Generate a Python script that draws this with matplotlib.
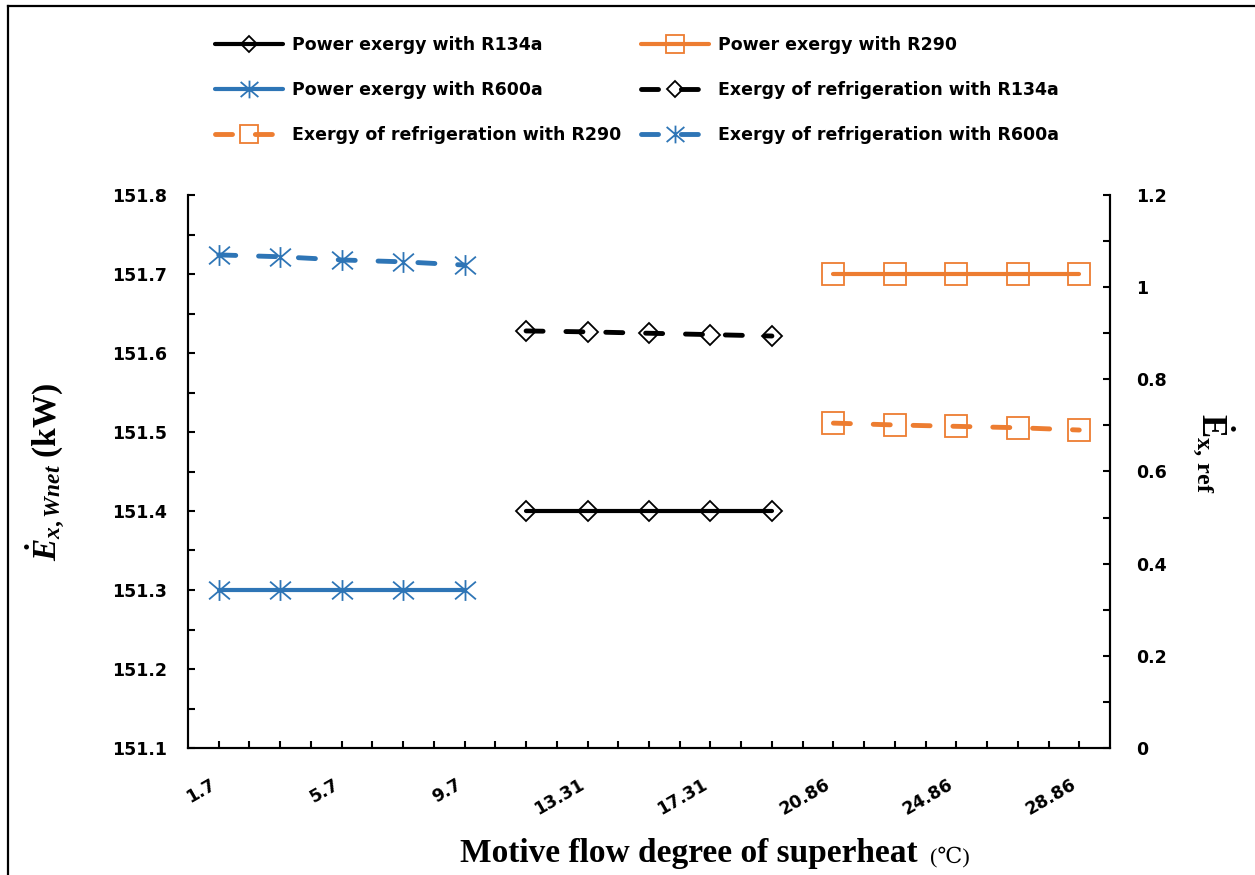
import matplotlib
matplotlib.use("Agg")
import matplotlib.pyplot as plt
from matplotlib.lines import Line2D
from matplotlib.path import Path
from matplotlib.ticker import FixedLocator, MultipleLocator, NullFormatter, FuncFormatter
from matplotlib.font_manager import FontProperties

# Motive flow degree of superheat (°C), one category per point
superheat = ['1.7', '3.7', '5.7', '7.7', '9.7',
             '11.31', '13.31', '15.31', '17.31', '19.31',
             '20.86', '22.86', '24.86', '26.86', '28.86']

# Category index ranges used by each refrigerant
idx_r600a = [0, 1, 2, 3, 4]
idx_r134a = [5, 6, 7, 8, 9]
idx_r290 = [10, 11, 12, 13, 14]

# Net power exergy (kW), left axis
power_r134a = [151.4, 151.4, 151.4, 151.4, 151.4]
power_r290 = [151.7, 151.7, 151.7, 151.7, 151.7]
power_r600a = [151.3, 151.3, 151.3, 151.3, 151.3]

# Exergy of refrigeration, right axis
ref_r134a = [0.905, 0.903, 0.900, 0.897, 0.894]
ref_r290 = [0.705, 0.701, 0.698, 0.695, 0.690]
ref_r600a = [1.070, 1.066, 1.059, 1.055, 1.048]

BLACK = '#000000'
ORANGE = '#ED7D31'
BLUE = '#2E75B6'

W, H = 1255, 875
plt.rcParams['mathtext.fontset'] = 'custom'
plt.rcParams['mathtext.rm'] = 'Liberation Serif:bold'
plt.rcParams['mathtext.it'] = 'Liberation Serif:italic:bold'
plt.rcParams['mathtext.bf'] = 'Liberation Serif:bold'

fig = plt.figure(figsize=(W / 100, H / 100), dpi=100)
ax = fig.add_axes([188 / W, 1 - 748 / H, (1110 - 188) / W, (748 - 195) / H])
ax2 = ax.twinx()

# Asterisk-style marker: vertical bar plus a cross
star = Path([(0, -1), (0, 1), (-1, -0.85), (1, 0.85), (-1, 0.85), (1, -0.85)],
            [Path.MOVETO, Path.LINETO, Path.MOVETO, Path.LINETO, Path.MOVETO, Path.LINETO])

solid_kw = dict(lw=3.0, solid_capstyle='round')
dash_kw = dict(lw=3.5, dashes=(3.5, 4.7), dash_capstyle='round')

styles = {
    'r134a': dict(marker='D', ms=10, mec=BLACK, color=BLACK),
    'r290': dict(marker='s', ms=15.5, mec=ORANGE, color=ORANGE),
    'r600a': dict(marker=star, ms=15, mec=BLUE, color=BLUE),
}

h = {}
h['p134'], = ax.plot(idx_r134a, power_r134a, mfc='none', mew=1.3, **styles['r134a'], **solid_kw,
                     label='Power exergy with R134a')
h['p290'], = ax.plot(idx_r290, power_r290, mfc='none', mew=1.3, **styles['r290'], **solid_kw,
                     label='Power exergy with R290')
h['p600'], = ax.plot(idx_r600a, power_r600a, mfc='none', mew=1.3, **styles['r600a'], **solid_kw,
                     label='Power exergy with R600a')
h['e134'], = ax2.plot(idx_r134a, ref_r134a, mfc='none', mew=1.3, **styles['r134a'], **dash_kw,
                      label='Exergy of refrigeration with R134a')
h['e290'], = ax2.plot(idx_r290, ref_r290, mfc='none', mew=1.3, **styles['r290'], **dash_kw,
                      label='Exergy of refrigeration with R290')
h['e600'], = ax2.plot(idx_r600a, ref_r600a, mfc='none', mew=1.3, **styles['r600a'], **dash_kw,
                      label='Exergy of refrigeration with R600a')

# Axes limits and ticks
ax.set_xlim(-0.5, len(superheat) - 0.5)
ax.set_ylim(151.1, 151.8)
ax2.set_ylim(0, 1.2)
ax.yaxis.set_major_locator(MultipleLocator(0.1))
ax.yaxis.set_minor_locator(MultipleLocator(0.05))
ax2.yaxis.set_major_locator(MultipleLocator(0.2))
ax2.yaxis.set_minor_locator(MultipleLocator(0.1))
ax.yaxis.set_major_formatter(FuncFormatter(lambda v, p: f'{v:.1f}'))
ax2.yaxis.set_major_formatter(FuncFormatter(
    lambda v, p: '0' if abs(v) < 1e-9 else ('1' if abs(v - 1) < 1e-9 else f'{v:.1f}')))

major_x = list(range(0, len(superheat), 2))
minor_x = [i * 0.5 for i in range(0, 2 * len(superheat) - 1) if i * 0.5 not in major_x]
ax.xaxis.set_major_locator(FixedLocator(major_x))
ax.xaxis.set_minor_locator(FixedLocator(minor_x))
ax.set_xticklabels([superheat[i] for i in major_x])
ax.xaxis.set_minor_formatter(NullFormatter())

tick_font = dict(family='DejaVu Sans', weight='bold', size=12.5)
for t in ax.get_xticklabels():
    t.set_rotation(30)
    t.set_ha('right')
    t.set_fontproperties(FontProperties(**tick_font))
for a in (ax, ax2):
    for t in a.get_yticklabels():
        t.set_fontproperties(FontProperties(**tick_font))

ax.tick_params(axis='x', which='both', direction='in', length=5, width=1.5, pad=20)
ax.tick_params(axis='y', which='both', direction='in', length=5, width=1.5, pad=15)
ax2.tick_params(axis='y', which='both', direction='in', length=5, width=1.5, pad=19)

for a in (ax, ax2):
    a.spines['top'].set_visible(False)
    for s in ('left', 'right', 'bottom'):
        a.spines[s].set_linewidth(1.5)

# Axis titles
fig.text(45 / W, 1 - 472 / H, r'$\dot{E}_{x,Wnet}$ (kW)', rotation=90,
         ha='center', va='center', family='Liberation Serif', weight='bold', size=24)
fig.text(1213 / W, 1 - 453 / H, r'$\dot{\mathrm{E}}_{\mathrm{x,\,ref}}$', rotation=270,
         ha='center', va='center', size=25)
fig.text(918 / W, 13 / H, 'Motive flow degree of superheat', ha='right', va='baseline',
         family='Liberation Serif', weight='bold', size=24)
fig.text(930 / W, 13 / H, '(℃)', ha='left', va='baseline',
         family=['Liberation Serif', 'DejaVu Serif', 'DejaVu Sans'], size=16)

# Legend laid out in two columns
order = ['p134', 'p600', 'e290', 'p290', 'e134', 'e600']
fig.legend([h[k] for k in order], [h[k].get_label() for k in order],
           ncol=2, loc='upper left', bbox_to_anchor=(215 / W, 1 - 36 / H),
           frameon=False, borderpad=0, borderaxespad=0, handlelength=3.9,
           handletextpad=0.55, columnspacing=1.12, labelspacing=1.55, markerscale=0.85,
           prop=dict(family='DejaVu Sans', weight='bold', size=12.5))

# Outer border
fig.add_artist(Line2D([8 / W, 1], [1 - 6 / H, 1 - 6 / H], color='black', lw=1.6,
                      transform=fig.transFigure))
fig.add_artist(Line2D([8 / W, 8 / W], [0, 1 - 6 / H], color='black', lw=1.6,
                      transform=fig.transFigure))

fig.savefig('out.png', dpi=100)
